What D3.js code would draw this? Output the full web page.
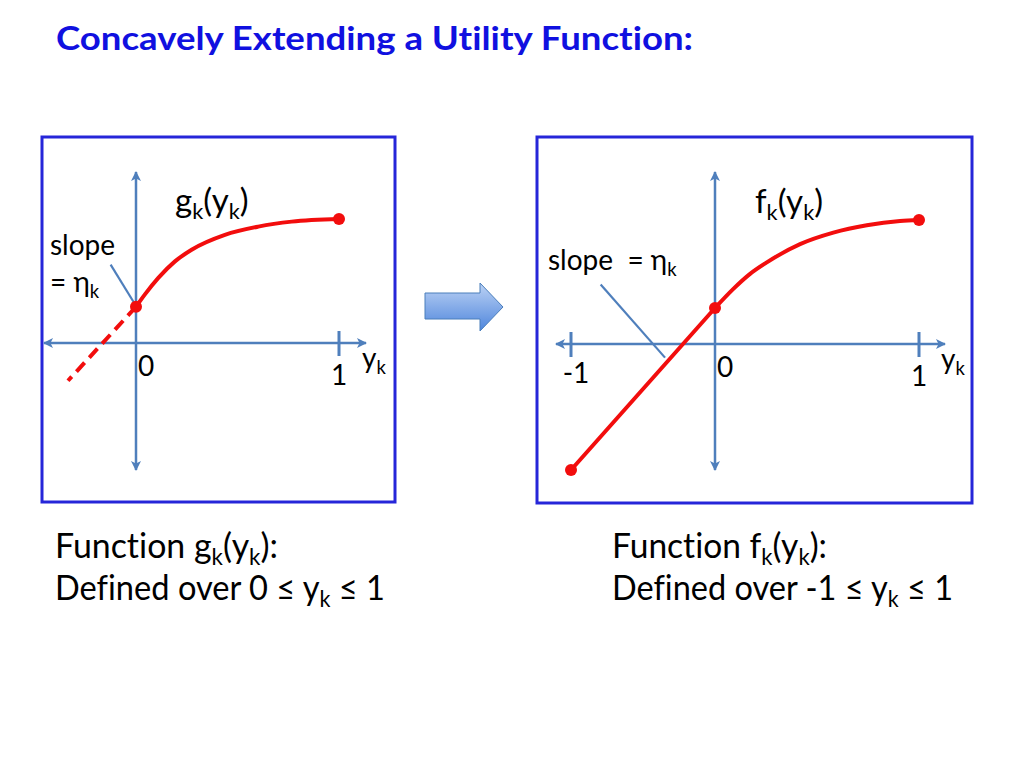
<!DOCTYPE html>
<html>
<head>
<meta charset="utf-8">
<script src="https://cdn.jsdelivr.net/npm/d3@7"></script>
<style>
  body { margin: 0; background: #fff; }
  svg { display: block; }
  text { font-family: Lato, "Open Sans", sans-serif; font-variant-ligatures: none; }
</style>
</head>
<body>
<div id="chart"></div>
<script>
// g_k(y_k), defined over 0 <= y <= 1
const gX = [0, 0.044, 0.110, 0.192, 0.274, 0.438, 0.602, 0.767, 1.0];
const gY = [0.29, 0.389, 0.521, 0.653, 0.746, 0.865, 0.931, 0.971, 0.992];
// dashed linear extension of g to the left of 0
const gExtX = [0, -0.335];
const gExtY = [0.29, -0.302];
// f_k(y_k), defined over -1 <= y <= 1 (linear below 0, g above)
const fLinX = [-1, 0];
const fLinY = [-1.008, 0.288];
const fX = [0, 0.090, 0.172, 0.254, 0.417, 0.580, 0.744, 0.907, 1.0];
const fY = [0.288, 0.441, 0.561, 0.653, 0.799, 0.891, 0.950, 0.984, 0.992];
// pointer lines for the "slope = eta_k" notes
const gSlopeX = [-0.125, -0.005];
const gSlopeY = [0.627, 0.31];
const fSlopeX = [-0.794, -0.347];
const fSlopeY = [0.476, -0.109];
// tick values and labels
const gTickValues = [0, 1];
const gTickLabels = ["0", "1"];
const fTickValues = [-1, 0, 1];
const fTickLabels = ["-1", "0", "1"];

const width = 1024, height = 768;
const RED = "#f20d0d", AXIS = "#4f7fbc", BOX = "#2626d9";
const PANEL_FONT = 28;
const NAME_FONT = 33;

const svg = d3.select("#chart").append("svg")
    .attr("width", width)
    .attr("height", height);

const defs = svg.append("defs");
defs.append("marker")
    .attr("id", "axArrow")
    .attr("markerUnits", "userSpaceOnUse")
    .attr("viewBox", "0 0 10 10")
    .attr("refX", 9).attr("refY", 5)
    .attr("markerWidth", 11).attr("markerHeight", 10)
    .attr("orient", "auto-start-reverse")
    .append("path")
    .attr("d", "M0,0 L10,5 L0,10 L2.5,5 Z")
    .attr("fill", AXIS);

const grad = defs.append("linearGradient")
    .attr("id", "arrowFill")
    .attr("x1", 0).attr("y1", 0).attr("x2", 0).attr("y2", 1);
grad.append("stop").attr("offset", "0%").attr("stop-color", "#bcd2f4");
grad.append("stop").attr("offset", "100%").attr("stop-color", "#4f86dc");

// text with subscript parts: [[string, isSub], ...]
function richText(g, x, y, parts, size, opts = {}) {
    const t = g.append("text")
        .attr("x", x).attr("y", y)
        .attr("font-size", size)
        .attr("fill", opts.fill || "#000")
        .style("white-space", "pre");
    if (opts.anchor) t.attr("text-anchor", opts.anchor);
    if (opts.length) t.attr("textLength", opts.length).attr("lengthAdjust", "spacingAndGlyphs");
    let shifted = false;
    parts.forEach(([s, sub]) => {
        const ts = t.append("tspan").text(s);
        if (sub && !shifted) { ts.attr("dy", size * 0.22).attr("font-size", size * 0.66); shifted = true; }
        else if (sub) ts.attr("font-size", size * 0.66);
        else if (shifted) { ts.attr("dy", -size * 0.22); shifted = false; }
    });
    return t;
}

// title
svg.append("text")
    .attr("x", 56).attr("y", 50)
    .attr("font-size", 33)
    .attr("font-weight", "bold")
    .attr("fill", "#1010e0")
    .attr("textLength", 637)
    .attr("lengthAdjust", "spacingAndGlyphs")
    .text("Concavely Extending a Utility Function:");

function drawPanel(cfg) {
    const g = svg.append("g");
    const x = d3.scaleLinear().domain(cfg.xDomain).range(cfg.xRange);
    const y = d3.scaleLinear().domain([0, 1]).range([cfg.axisY, cfg.oneY]);

    g.append("rect")
        .attr("x", cfg.box[0]).attr("y", cfg.box[1])
        .attr("width", cfg.box[2]).attr("height", cfg.box[3])
        .attr("fill", "none")
        .attr("stroke", BOX)
        .attr("stroke-width", 3);

    // axes
    g.append("line")
        .attr("x1", cfg.hAxis[0]).attr("x2", cfg.hAxis[1])
        .attr("y1", y(0)).attr("y2", y(0))
        .attr("stroke", AXIS).attr("stroke-width", 2.5)
        .attr("marker-start", "url(#axArrow)")
        .attr("marker-end", "url(#axArrow)");
    g.append("line")
        .attr("x1", x(0)).attr("x2", x(0))
        .attr("y1", cfg.vAxis[0]).attr("y2", cfg.vAxis[1])
        .attr("stroke", AXIS).attr("stroke-width", 2.5)
        .attr("marker-start", "url(#axArrow)")
        .attr("marker-end", "url(#axArrow)");

    g.selectAll(".tick")
        .data(cfg.ticks.filter(d => d !== 0))
        .enter().append("line")
        .attr("x1", d => x(d)).attr("x2", d => x(d))
        .attr("y1", y(0) - 12).attr("y2", y(0) + 13)
        .attr("stroke", AXIS).attr("stroke-width", 3);

    g.selectAll(".tickLabel")
        .data(cfg.ticks)
        .enter().append("text")
        .attr("x", d => d === 0 ? x(d) + 2 : x(d) + (d < 0 ? 5 : 0))
        .attr("y", d => d === 0 ? y(0) + 33 : y(0) + (d < 0 ? 39 : 42))
        .attr("text-anchor", d => d === 0 ? "start" : "middle")
        .attr("font-size", PANEL_FONT)
        .text((d, i) => cfg.tickLabels[i]);

    richText(g, cfg.hAxis[1] - 4, y(0) + 25, [["y"], ["k", true]], PANEL_FONT);
    richText(g, cfg.nameAt[0], cfg.nameAt[1], cfg.name, NAME_FONT);

    const line = d3.line().x(d => x(d[0])).y(d => y(d[1]));

    // slope pointer
    g.append("path")
        .datum(d3.zip(cfg.slopeX, cfg.slopeY))
        .attr("d", line)
        .attr("stroke", AXIS).attr("stroke-width", 2.2)
        .attr("fill", "none");

    cfg.extras(g, x, y, line);

    g.append("path")
        .datum(d3.zip(cfg.curveX, cfg.curveY))
        .attr("d", line.curve(d3.curveMonotoneX))
        .attr("stroke", RED).attr("stroke-width", 4)
        .attr("stroke-linecap", "round")
        .attr("fill", "none");

    g.selectAll(".dot")
        .data(cfg.dots)
        .enter().append("circle")
        .attr("cx", d => x(d[0])).attr("cy", d => y(d[1]))
        .attr("r", 6)
        .attr("fill", RED);

    cfg.slopeText(g);
}

drawPanel({
    box: [42, 137, 353, 365],
    xDomain: [0, 1], xRange: [136, 339],
    axisY: 343, oneY: 218,
    hAxis: [44, 366], vAxis: [172, 470],
    ticks: gTickValues, tickLabels: gTickLabels,
    name: [["g"], ["k", true], ["(y"], ["k", true], [")"]],
    nameAt: [175, 212],
    curveX: gX, curveY: gY,
    slopeX: gSlopeX, slopeY: gSlopeY,
    dots: [[gX[0], gY[0]], [gX[gX.length - 1], gY[gY.length - 1]]],
    extras: (g, x, y, line) => {
        g.append("path")
            .datum(d3.zip(gExtX, gExtY))
            .attr("d", line.curve(d3.curveLinear))
            .attr("stroke", RED).attr("stroke-width", 4)
            .attr("stroke-dasharray", "12,7")
            .attr("fill", "none");
    },
    slopeText: g => {
        g.append("text").attr("x", 50).attr("y", 255).attr("font-size", PANEL_FONT).text("slope");
        richText(g, 50, 292, [["= η"], ["k", true]], PANEL_FONT);
    }
});

drawPanel({
    box: [537, 137, 435, 366],
    xDomain: [-1, 0, 1], xRange: [571, 715, 919],
    axisY: 344, oneY: 219,
    hAxis: [556, 945], vAxis: [172, 470],
    ticks: fTickValues, tickLabels: fTickLabels,
    name: [["f"], ["k", true], ["(y"], ["k", true], [")"]],
    nameAt: [755, 213],
    curveX: fX, curveY: fY,
    slopeX: fSlopeX, slopeY: fSlopeY,
    dots: [[fLinX[0], fLinY[0]], [fX[0], fY[0]], [fX[fX.length - 1], fY[fY.length - 1]]],
    extras: (g, x, y, line) => {
        g.append("path")
            .datum(d3.zip(fLinX, fLinY))
            .attr("d", line.curve(d3.curveLinear))
            .attr("stroke", RED).attr("stroke-width", 4)
            .attr("stroke-linecap", "round")
            .attr("fill", "none");
    },
    slopeText: g => {
        richText(g, 548, 270, [["slope  = η"], ["k", true]], PANEL_FONT);
    }
});

// block arrow between panels
svg.append("path")
    .attr("d", "M425,293 L480,293 L480,283 L503,307 L480,331 L480,319 L425,319 Z")
    .attr("fill", "url(#arrowFill)")
    .attr("stroke", "#4a7ebb")
    .attr("stroke-width", 1);

// captions
richText(svg, 55, 558, [["Function g"], ["k", true], ["(y"], ["k", true], ["):"]], 34, { length: 223 });
richText(svg, 55, 600, [["Defined over 0 ≤ y"], ["k", true], [" ≤ 1"]], 34, { length: 330 });
richText(svg, 612, 558, [["Function f"], ["k", true], ["(y"], ["k", true], ["):"]], 34, { length: 215 });
richText(svg, 612, 600, [["Defined over -1 ≤ y"], ["k", true], [" ≤ 1"]], 34, { length: 341 });
</script>
</body>
</html>
